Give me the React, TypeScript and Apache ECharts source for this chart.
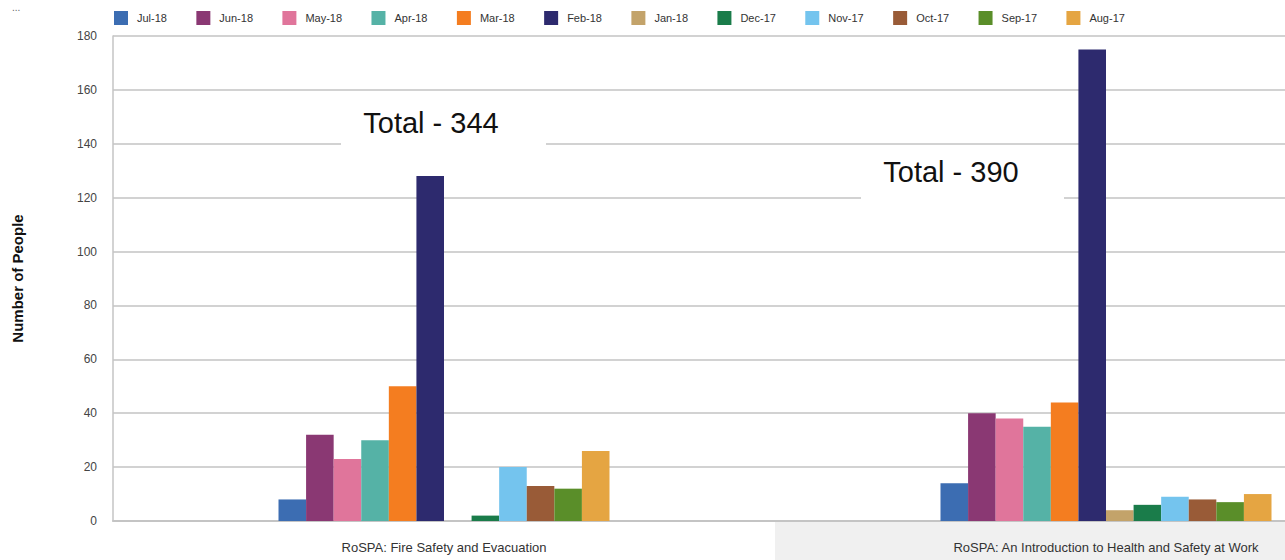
import { useEffect, useRef } from "react";
import * as echarts from "echarts";

const categories = [
  "RoSPA: Fire Safety and Evacuation",
  "RoSPA: An Introduction to Health and Safety at Work",
];
const months = [
  "Jul-18", "Jun-18", "May-18", "Apr-18", "Mar-18", "Feb-18",
  "Jan-18", "Dec-17", "Nov-17", "Oct-17", "Sep-17", "Aug-17",
];
const monthColors = [
  "#3c6db2", "#8a3873", "#e0759b", "#55b2a6", "#f47d20", "#2d2a6e",
  "#c3a36a", "#1a7c4a", "#74c4ee", "#995b37", "#5a8e29", "#e5a542",
];
const fireSafety = [8, 32, 23, 30, 50, 128, 0, 2, 20, 13, 12, 26];
const healthSafety = [14, 40, 38, 35, 44, 175, 4, 6, 9, 8, 7, 10];
const yMin = 0;
const yMax = 180;
const yStep = 20;

const sum = (a: number[]) => a.reduce((s, v) => s + v, 0);
const totalLabels = [`Total - ${sum(fireSafety)}`, `Total - ${sum(healthSafety)}`];

const FONT = "'Liberation Sans', Arial, sans-serif";

export default function App() {
  const ref = useRef<HTMLDivElement>(null);
  useEffect(() => {
    if (!ref.current) return;
    const chart = echarts.init(ref.current, null, { renderer: "svg" });
    const series = months.map((m, i) => ({
      name: m,
      type: "bar",
      data: [fireSafety[i], healthSafety[i]],
      itemStyle: { color: monthColors[i] },
      barGap: "0%",
      barCategoryGap: "50%",
    }));
    chart.setOption({
      animation: false,
      color: monthColors,
      textStyle: { fontFamily: FONT },
      legend: {
        left: 114,
        top: 11,
        padding: 0,
        itemWidth: 14,
        itemHeight: 14,
        itemGap: 29.4,
        icon: "rect",
        data: months,
        textStyle: { fontSize: 11, color: "#333", padding: [0, 0, 0, 4], fontFamily: FONT },
      },
      grid: { left: 113, top: 36, width: 1324, bottom: 39, outerBoundsMode: "none", containLabel: false },
      xAxis: {
        type: "category",
        data: categories,
        axisLine: { show: true, lineStyle: { color: "#c4c4c4", width: 2 } },
        axisTick: { show: false },
        axisLabel: {
          interval: 0,
          margin: 1,
          formatter: (v: string, idx: number) => (idx === 1 ? `{b|${v}}` : `{a|${v}}`),
          rich: {
            a: { width: 662, height: 50, lineHeight: 50, align: "center", fontSize: 13, color: "#333", fontFamily: FONT },
            b: { width: 662, height: 50, lineHeight: 50, align: "center", fontSize: 13, color: "#333", fontFamily: FONT, backgroundColor: "#f0f0f0" },
          },
        },
      },
      yAxis: {
        type: "value",
        min: yMin,
        max: yMax,
        interval: yStep,
        name: "Number of People",
        nameLocation: "middle",
        nameGap: 88,
        nameTextStyle: { fontSize: 15, fontWeight: "bold", color: "#111", fontFamily: FONT },
        axisLine: { show: true, lineStyle: { color: "#c4c4c4", width: 1.5 } },
        axisTick: { show: false },
        axisLabel: { margin: 16, fontSize: 12, color: "#444", fontFamily: FONT },
        splitLine: { lineStyle: { color: "#d2d2d2", width: 2 } },
      },
      graphic: [
        { type: "text", left: 12, top: 2, style: { text: "...", fontSize: 10, fill: "#666" } },
        {
          type: "rect",
          shape: { x: 341, y: 92, width: 205, height: 54 },
          style: { fill: "#ffffff" },
          z: 10,
        },
        {
          type: "text",
          x: 431,
          y: 123,
          z: 11,
          style: { text: totalLabels[0], fontSize: 29, fill: "#111", fontFamily: FONT, align: "center", verticalAlign: "middle" },
        },
        {
          type: "rect",
          shape: { x: 861, y: 146, width: 203, height: 54 },
          style: { fill: "#ffffff" },
          z: 10,
        },
        {
          type: "text",
          x: 951,
          y: 172,
          z: 11,
          style: { text: totalLabels[1], fontSize: 29, fill: "#111", fontFamily: FONT, align: "center", verticalAlign: "middle" },
        },
      ],
      series,
    });
    return () => chart.dispose();
  }, []);
  return (
    <div
      ref={ref}
      style={{ position: "fixed", left: 0, top: 0, width: 1285, height: 560, background: "#fff" }}
    />
  );
}
